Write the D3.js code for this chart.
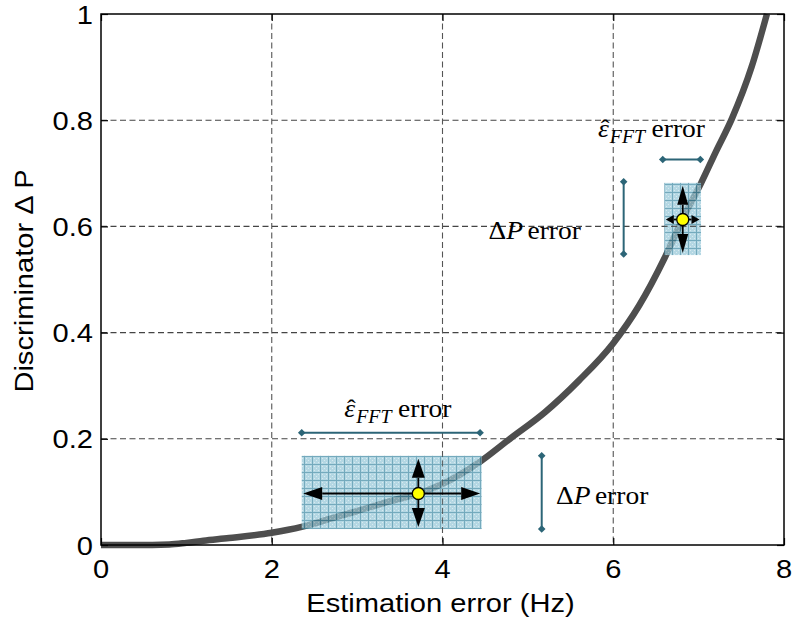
<!DOCTYPE html>
<html>
<head>
<meta charset="utf-8">
<script src="https://cdn.jsdelivr.net/npm/d3@7/dist/d3.min.js"></script>
<style>
  html, body { margin: 0; padding: 0; background: #fff; }
  svg { display: block; }
</style>
</head>
<body>
<svg id="chart" width="792" height="623"></svg>
<script>
// Discriminator curve: estimation error (Hz) vs. discriminator ΔP
const curveX = [0, 0.4, 0.8, 1.0, 1.2, 1.5, 2.0, 2.35, 2.7, 3.0, 3.4, 3.72, 4.0, 4.45, 4.79, 5.2, 5.6, 6.0, 6.3, 6.6, 6.81, 7.03, 7.2, 7.39, 7.62, 7.8];
const curveY = [0, 0, 0.001, 0.004, 0.008, 0.013, 0.023, 0.034, 0.05, 0.064, 0.083, 0.097, 0.115, 0.158, 0.2, 0.25, 0.31, 0.38, 0.45, 0.54, 0.613, 0.682, 0.74, 0.803, 0.9, 1.0];

const xTicks = [0, 2, 4, 6, 8];
const yTicks = [0, 0.2, 0.4, 0.6, 0.8, 1];
const yTickLabels = ["0", "0.2", "0.4", "0.6", "0.8", "1"];

// Operating points with their uncertainty regions [xmin, xmax, ymin, ymax]
const pointX = [3.717, 6.814];
const pointY = [0.097, 0.613];
const regionX0 = [2.351, 6.598];
const regionX1 = [4.459, 7.028];
const regionY0 = [0.030, 0.546];
const regionY1 = [0.168, 0.682];
const arrowHeadLenH = [19, 8];
const arrowHeadLenV = [19, 19];

// Error-range bars: horizontal (frequency) and vertical (ΔP)
const hBarY = [0.2115, 0.726];
const hBarX0 = [2.351, 6.58];
const hBarX1 = [4.44, 7.02];
const vBarX = [5.162, 6.122];
const vBarY0 = [0.030, 0.548];
const vBarY1 = [0.168, 0.684];

// Annotation label anchors (data units)
const epsLabelX = [2.85, 5.82];
const epsLabelY = [0.241, 0.768];
const dpLabelX = [5.33, 4.54];
const dpLabelY = [0.078, 0.577];

const svg = d3.select("#chart");
const W = 792, H = 623;
const pL = 101, pR = 784, pT = 14, pB = 545;

const x = d3.scaleLinear().domain([0, 8]).range([pL, pR]);
const y = d3.scaleLinear().domain([0, 1]).range([pB, pT]);

const SANS = "'Liberation Sans', Arial, Helvetica, sans-serif";
const SERIF = "'Liberation Serif', 'Times New Roman', serif";
const SX = 1.12;

// Text with slightly widened glyphs
function label(g, px, py, str, opt = {}) {
  const rot = opt.rotate ? ` rotate(${opt.rotate})` : "";
  return g.append("text")
    .attr("transform", `translate(${px},${py})${rot} scale(${opt.sx || SX},1)`)
    .attr("text-anchor", opt.anchor || "middle")
    .attr("font-family", opt.family || SANS)
    .attr("font-size", opt.size || 26)
    .attr("fill", "#000")
    .text(str);
}

// Hatched fill for the uncertainty regions
const defs = svg.append("defs");
const pat = defs.append("pattern")
  .attr("id", "hatch").attr("patternUnits", "userSpaceOnUse")
  .attr("width", 8).attr("height", 8);
pat.append("rect").attr("width", 8).attr("height", 8).attr("fill", "#98c8d8");
for (let i = 0; i < 8; i += 2) {
  for (let j = 0; j < 8; j += 2) {
    if (((i + j) / 2) % 2 === 0) {
      pat.append("rect").attr("x", i).attr("y", j).attr("width", 1).attr("height", 1).attr("fill", "#c8e2ea");
    }
  }
}
pat.append("rect").attr("x", 0).attr("y", 0).attr("width", 8).attr("height", 1).attr("fill", "#3f8aa3");
pat.append("rect").attr("x", 0).attr("y", 0).attr("width", 1).attr("height", 8).attr("fill", "#3f8aa3");

const clip = defs.append("clipPath").attr("id", "plotClip");
clip.append("rect").attr("x", pL).attr("y", pT - 4).attr("width", pR - pL).attr("height", pB - pT + 8);

// Background
svg.append("rect").attr("width", W).attr("height", H).attr("fill", "#fff");

// Grid
const grid = svg.append("g");
function drawGrid(gg) {
  xTicks.filter(v => v > 0 && v < 8).forEach(v => {
    gg.append("line").attr("x1", x(v)).attr("x2", x(v)).attr("y1", pT).attr("y2", pB)
      .attr("stroke", "#555").attr("stroke-width", 1.1).attr("stroke-dasharray", "6,3.5");
  });
  yTicks.filter(v => v > 0 && v < 1).forEach(v => {
    gg.append("line").attr("x1", pL).attr("x2", pR).attr("y1", y(v)).attr("y2", y(v))
      .attr("stroke", "#444").attr("stroke-width", 1.1).attr("stroke-dasharray", "6,3.5");
  });
}
drawGrid(grid);

// Curve
const pts = curveX.map((v, i) => [v, curveY[i]]);
svg.append("path")
  .datum(pts)
  .attr("clip-path", "url(#plotClip)")
  .attr("fill", "none")
  .attr("stroke", "#4e4e4e")
  .attr("stroke-width", 6.5)
  .attr("stroke-linejoin", "round")
  .attr("d", d3.line().x(d => x(d[0])).y(d => y(d[1])).curve(d3.curveMonotoneX));

// Uncertainty regions
const regions = svg.append("g");
pointX.forEach((_, i) => {
  regions.append("rect")
    .attr("x", x(regionX0[i])).attr("y", y(regionY1[i]))
    .attr("width", x(regionX1[i]) - x(regionX0[i]))
    .attr("height", y(regionY0[i]) - y(regionY1[i]))
    .attr("fill", "url(#hatch)").attr("opacity", 0.72);
});

// Grid shows through the regions
const gclip = defs.append("clipPath").attr("id", "regionClip");
pointX.forEach((_, i) => {
  gclip.append("rect")
    .attr("x", x(regionX0[i])).attr("y", y(regionY1[i]))
    .attr("width", x(regionX1[i]) - x(regionX0[i]))
    .attr("height", y(regionY0[i]) - y(regionY1[i]));
});
const grid2 = svg.append("g").attr("opacity", 0.8).attr("clip-path", "url(#regionClip)");
drawGrid(grid2);

// Arrows from each operating point to the region edges
const arrows = svg.append("g");
function arrow(x1, y1, x2, y2, headLen, halfW) {
  const dx = x2 - x1, dy = y2 - y1, L = Math.hypot(dx, dy);
  const ux = dx / L, uy = dy / L;
  const bx = x2 - ux * headLen, by = y2 - uy * headLen;
  arrows.append("line").attr("x1", x1).attr("y1", y1).attr("x2", bx).attr("y2", by)
    .attr("stroke", "#000").attr("stroke-width", 1.8);
  arrows.append("path")
    .attr("d", `M${x2},${y2}L${bx - uy * halfW},${by + ux * halfW}L${bx + uy * halfW},${by - ux * halfW}Z`)
    .attr("fill", "#000");
}
pointX.forEach((px, i) => {
  const cx = x(px), cy = y(pointY[i]);
  const hl = arrowHeadLenH[i], vl = arrowHeadLenV[i];
  const hw = i === 0 ? 6.5 : 4.5, vw = i === 0 ? 6.5 : 5.5;
  arrow(cx, cy, x(regionX0[i]) + 1.5, cy, hl, hw);
  arrow(cx, cy, x(regionX1[i]) - 1.5, cy, hl, hw);
  arrow(cx, cy, cx, y(regionY1[i]) + 3, vl, vw);
  arrow(cx, cy, cx, y(regionY0[i]) - 2, vl, vw);
});
pointX.forEach((px, i) => {
  arrows.append("circle").attr("cx", x(px)).attr("cy", y(pointY[i])).attr("r", 6)
    .attr("fill", "#ffff00").attr("stroke", "#000").attr("stroke-width", 1.3);
});

// Error-range bars with diamond ends
const bars = svg.append("g");
const teal = "#2c6577";
function diamond(px, py) {
  const s = 3.8;
  bars.append("path").attr("d", `M${px},${py - s}L${px + s},${py}L${px},${py + s}L${px - s},${py}Z`).attr("fill", teal);
}
hBarY.forEach((v, i) => {
  bars.append("line").attr("x1", x(hBarX0[i])).attr("x2", x(hBarX1[i])).attr("y1", y(v)).attr("y2", y(v))
    .attr("stroke", teal).attr("stroke-width", 2);
  diamond(x(hBarX0[i]), y(v)); diamond(x(hBarX1[i]), y(v));
});
vBarX.forEach((v, i) => {
  bars.append("line").attr("x1", x(v)).attr("x2", x(v)).attr("y1", y(vBarY0[i])).attr("y2", y(vBarY1[i]))
    .attr("stroke", teal).attr("stroke-width", 2);
  diamond(x(v), y(vBarY0[i])); diamond(x(v), y(vBarY1[i]));
});

// Annotation labels
const notes = svg.append("g");
epsLabelX.forEach((v, i) => {
  const t = label(notes, x(v), y(epsLabelY[i]), "", { family: SERIF, size: 25, anchor: "start", sx: 1.1 });
  t.append("tspan").attr("font-style", "italic").text("\u03B5");
  t.append("tspan").attr("font-style", "italic").attr("font-size", 18).attr("dx", 1).attr("dy", 6).text("FFT");
  t.append("tspan").attr("dy", -6).attr("dx", 6).text("error");
  // hat over the epsilon
  t.append("tspan").attr("x", 2.5).attr("dy", -1).attr("font-size", 24).text("\u02C6");
});
dpLabelX.forEach((v, i) => {
  const t = label(notes, x(v), y(dpLabelY[i]), "", { family: SERIF, size: 25, anchor: "start", sx: 1.1 });
  t.append("tspan").text("\u0394");
  t.append("tspan").attr("font-style", "italic").text("P");
  t.append("tspan").attr("dx", 4).text("error");
});

// Axes box and inward ticks
const axes = svg.append("g");
axes.append("rect").attr("x", pL).attr("y", pT).attr("width", pR - pL).attr("height", pB - pT)
  .attr("fill", "none").attr("stroke", "#000").attr("stroke-width", 1.5);
const tk = 7;
function styleAxis(g) {
  g.select(".domain").remove();
  g.selectAll("line").attr("stroke", "#000").attr("stroke-width", 1.2);
}
axes.append("g").attr("transform", `translate(0,${pB})`)
  .call(d3.axisBottom(x).tickValues(xTicks).tickSizeInner(-tk).tickSizeOuter(0).tickFormat(""))
  .call(styleAxis);
axes.append("g").attr("transform", `translate(0,${pT})`)
  .call(d3.axisTop(x).tickValues(xTicks).tickSizeInner(-tk).tickSizeOuter(0).tickFormat(""))
  .call(styleAxis);
axes.append("g").attr("transform", `translate(${pL},0)`)
  .call(d3.axisLeft(y).tickValues(yTicks).tickSizeInner(-tk).tickSizeOuter(0).tickFormat(""))
  .call(styleAxis);
axes.append("g").attr("transform", `translate(${pR},0)`)
  .call(d3.axisRight(y).tickValues(yTicks).tickSizeInner(-tk).tickSizeOuter(0).tickFormat(""))
  .call(styleAxis);

// Tick labels
xTicks.forEach(v => label(axes, x(v), 578, String(v)));
yTicks.forEach((v, i) => label(axes, pL - 8, y(v) + 9.5, yTickLabels[i], { anchor: "end" }));

// Axis titles
label(axes, (pL + pR) / 2 - 2, 612, "Estimation error (Hz)");
label(axes, 33, 281, "Discriminator \u0394 P", { rotate: -90 });
</script>
</body>
</html>
